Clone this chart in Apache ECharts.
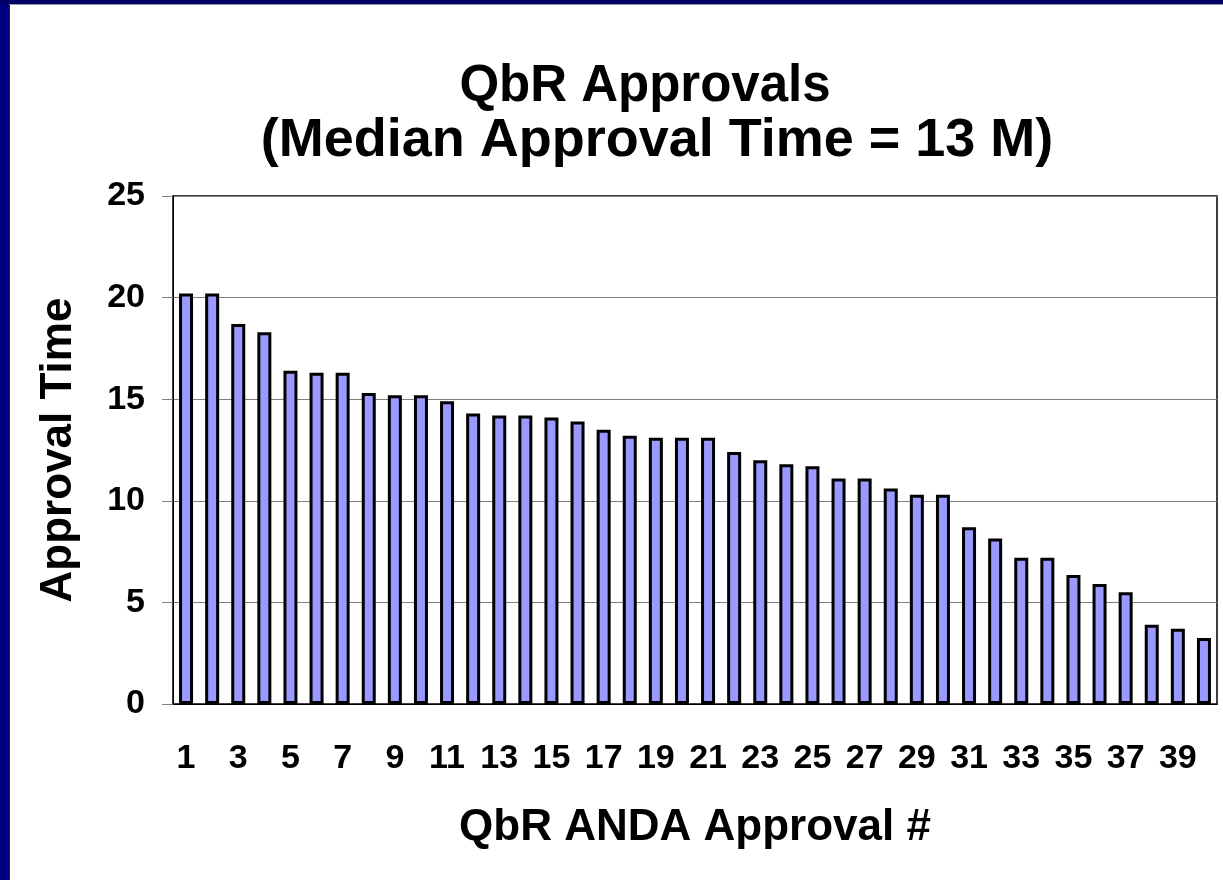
<!DOCTYPE html>
<html>
<head>
<meta charset="utf-8">
<script src="https://cdn.jsdelivr.net/npm/echarts@6/dist/echarts.min.js"></script>
<style>
  html, body { margin: 0; padding: 0; background: #fff; }
  #chart { width: 1223px; height: 880px; }
</style>
</head>
<body>
<div id="chart"></div>
<script>
var approvalNums = [];
for (var i = 1; i <= 40; i++) approvalNums.push(String(i));

var approvalTimes = [
    20.2, 20.2, 18.7, 18.3, 16.4, 16.3, 16.3, 15.3, 15.2, 15.2,
    14.9, 14.3, 14.2, 14.2, 14.1, 13.9, 13.5, 13.2, 13.1, 13.1,
    13.1, 12.4, 12.0, 11.8, 11.7, 11.1, 11.1, 10.6, 10.3, 10.3,
    8.7, 8.15, 7.2, 7.2, 6.35, 5.9, 5.5, 3.9, 3.7, 3.25
];

var yTicks = [0, 5, 10, 15, 20, 25];

var chartDom = document.getElementById('chart');
var myChart = echarts.init(chartDom);

var font = '"Liberation Sans", Arial, sans-serif';

var option = {
    backgroundColor: '#ffffff',
    animation: false,
    title: [
        {
            text: 'QbR Approvals',
            left: 640,
            top: 56,
            textAlign: 'center',
            textStyle: {
                color: '#000',
                fontFamily: font,
                fontWeight: 'bold',
                fontSize: 51
            }
        },
        {
            text: '(Median Approval Time = 13 M)',
            left: 652,
            top: 109,
            textAlign: 'center',
            textStyle: {
                color: '#000',
                fontFamily: font,
                fontWeight: 'bold',
                fontSize: 54
            }
        }
    ],
    graphic: [
        // navy frame strips (left and top)
        {type: 'rect', left: 0, top: 0, shape: {width: 9, height: 880}, style: {fill: '#00007f'}},
        {type: 'rect', left: 0, top: 0, shape: {width: 1223, height: 4}, style: {fill: '#000066'}},
        {type: 'rect', left: 9, top: 4, shape: {width: 1, height: 876}, style: {fill: '#222'}},
        {type: 'rect', left: 9, top: 4, shape: {width: 1214, height: 1}, style: {fill: '#999'}}
    ],
    grid: {
        left: 173,
        top: 196,
        right: 6,
        bottom: 176,
        show: true,
        borderColor: '#000',
        borderWidth: 1.5
    },
    xAxis: {
        type: 'category',
        data: approvalNums,
        name: 'QbR ANDA Approval #',
        nameLocation: 'middle',
        nameGap: 102,
        nameTextStyle: {
            color: '#000',
            fontFamily: font,
            fontWeight: 'bold',
            fontSize: 44
        },
        axisLine: {lineStyle: {color: '#000', width: 1}},
        axisTick: {show: false},
        axisLabel: {
            interval: 1,
            margin: 38,
            color: '#000',
            fontFamily: font,
            fontWeight: 'bold',
            fontSize: 34
        }
    },
    yAxis: {
        type: 'value',
        min: 0,
        max: 25,
        interval: 5,
        name: 'Approval Time',
        nameLocation: 'middle',
        nameGap: 92,
        nameTextStyle: {
            color: '#000',
            fontFamily: font,
            fontWeight: 'bold',
            fontSize: 44
        },
        axisLine: {show: true, lineStyle: {color: '#000', width: 1}},
        axisTick: {show: true, length: 11, lineStyle: {color: '#808080'}},
        axisLabel: {
            margin: 28,
            color: '#000',
            fontFamily: font,
            fontWeight: 'bold',
            fontSize: 34,
            formatter: function (v) {
                return yTicks.indexOf(v) >= 0 ? String(v) : '';
            }
        },
        splitLine: {lineStyle: {color: '#808080', width: 1}}
    },
    series: [
        {
            name: 'Approval Time',
            type: 'bar',
            data: approvalTimes,
            barWidth: 14,
            itemStyle: {
                color: '#9999ff',
                borderColor: '#000',
                borderWidth: 3
            }
        }
    ]
};

myChart.setOption(option);
</script>
</body>
</html>
